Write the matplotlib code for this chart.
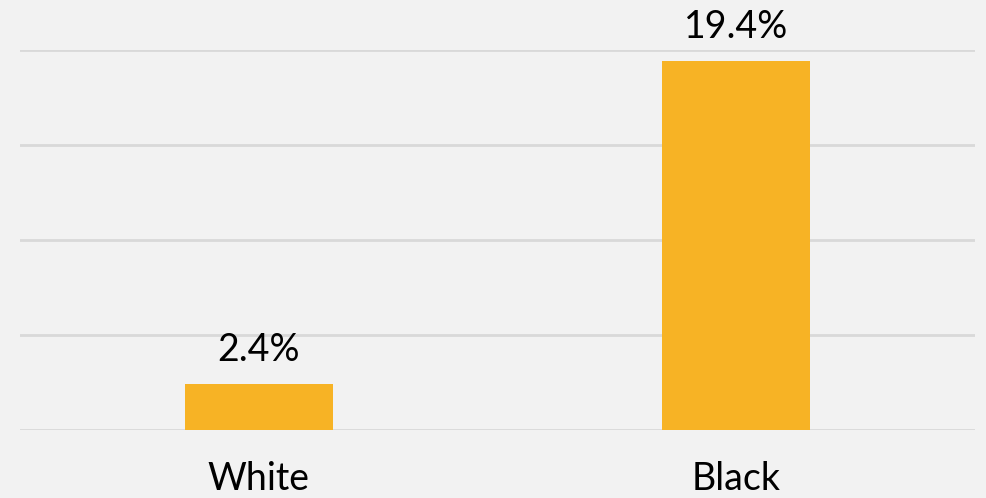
import matplotlib.pyplot as plt

groups = ['White', 'Black']
rates = [2.4, 19.4]
bar_labels = ['2.4%', '19.4%']

plt.rcParams['font.family'] = ['Lato', 'DejaVu Sans']

fig = plt.figure(figsize=(9.87, 4.98), dpi=100, facecolor='#f2f2f2')
ax = fig.add_axes([20 / 987, 68 / 498, 955 / 987, 380 / 498])
ax.set_facecolor('#f2f2f2')

x = range(len(groups))
bars = ax.bar(x, rates, width=0.31, color='#f7b325', zorder=3)

ax.set_xlim(-0.5, 1.5)
ax.set_ylim(0, 20)
ax.set_yticks([0, 5, 10, 15, 20])
ax.yaxis.grid(True, color='#d9d9d9', linewidth=2)
ax.set_yticklabels([])
ax.tick_params(axis='both', length=0)
for s in ax.spines.values():
    s.set_visible(False)

ax.set_xticks(list(x))
ax.set_xticklabels(groups, fontsize=27, color='black')
ax.tick_params(axis='x', pad=22)

for b, lab in zip(bars, bar_labels):
    ax.annotate(lab, (b.get_x() + b.get_width() / 2, b.get_height()),
                xytext=(0, 12), textcoords='offset points',
                ha='center', va='bottom', fontsize=27, clip_on=False)

fig.savefig('out.png', dpi=100, facecolor=fig.get_facecolor())
